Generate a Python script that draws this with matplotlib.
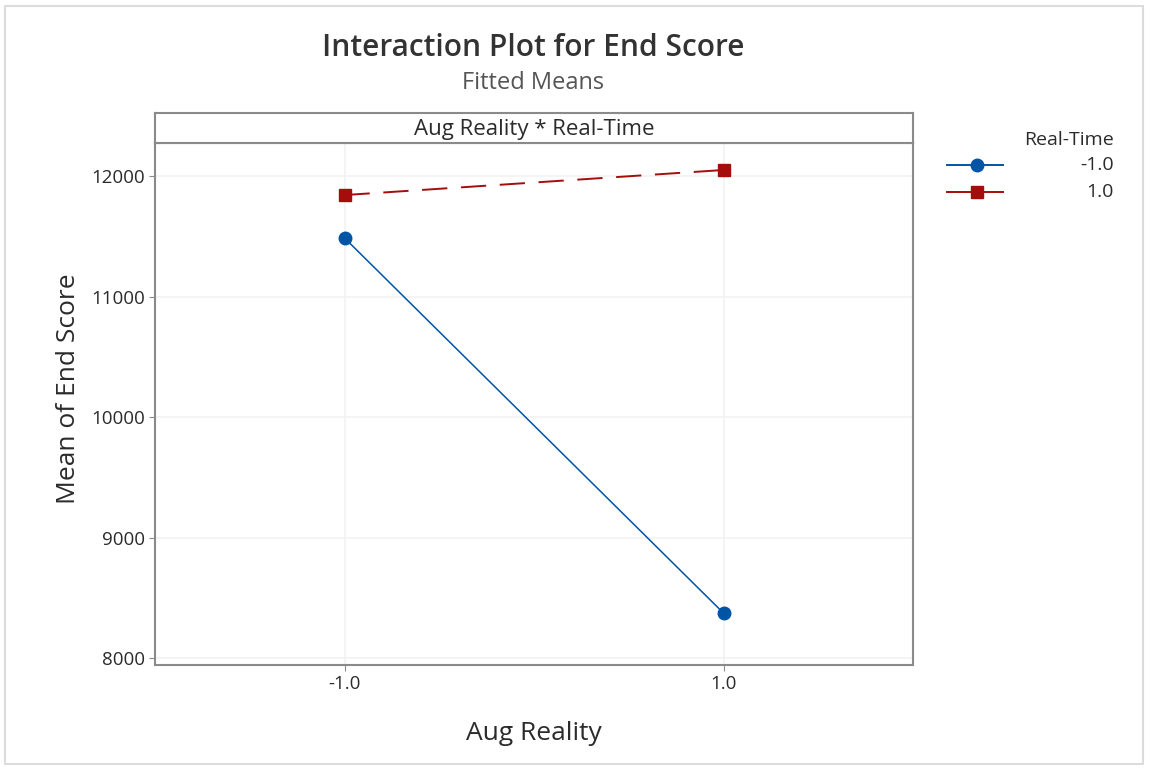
import matplotlib
matplotlib.use("Agg")
import matplotlib.pyplot as plt
from matplotlib.patches import Rectangle
from matplotlib.lines import Line2D

plt.rcParams['font.family'] = ['Open Sans', 'DejaVu Sans']

# 数据
aug_reality = [-1.0, 1.0]
x_ticklabels = ["-1.0", "1.0"]
rt_neg = [11486, 8373]     # Real-Time = -1.0
rt_pos = [11842, 12050]    # Real-Time = 1.0
y_ticks = [8000, 9000, 10000, 11000, 12000]
legend_labels = ["-1.0", "1.0"]

blue = "#0054a6"
red = "#a50d0d"
grey = "#8a8a8a"
txt = "#2b2b2b"

W, H = 1151, 770
fig = plt.figure(figsize=(W / 100, H / 100), dpi=100)

# 外框
fig.patches.append(Rectangle((5 / W, 6 / H), 1138 / W, 758 / H, transform=fig.transFigure,
                             fill=False, edgecolor="#dcdcdc", linewidth=1.5))

ax = fig.add_axes([155 / W, (H - 665) / H, 758 / W, 522 / H])
ax.plot(aug_reality, rt_neg, color=blue, linewidth=1.1, marker="o", markersize=9,
        markerfacecolor=blue, markeredgecolor=blue)
ax.plot(aug_reality, rt_pos, color=red, linewidth=1.4, linestyle=(0, (13, 7)), marker="s",
        markersize=9, markerfacecolor=red, markeredgecolor=red)

ax.set_xlim(-2.0, 2.0)
ax.set_ylim(7942, 12274)
ax.set_xticks(aug_reality)
ax.set_xticklabels(x_ticklabels)
ax.set_yticks(y_ticks)
ax.tick_params(labelsize=13.5, colors=txt, length=4, color=grey)
ax.grid(True, color="#f2f2f2", linewidth=1.2)
ax.set_axisbelow(True)
for s in ax.spines.values():
    s.set_color(grey)
    s.set_linewidth(1.5)

ax.set_xlabel("Aug Reality", fontsize=19, color=txt, labelpad=20)
ax.set_ylabel("Mean of End Score", fontsize=19, color=txt)
ax.yaxis.set_label_coords(-0.098, 0.529)

# 标题条
strip = fig.add_axes([155 / W, (H - 143) / H, 758 / W, 30 / H])
strip.set_xticks([])
strip.set_yticks([])
for s in strip.spines.values():
    s.set_color(grey)
    s.set_linewidth(1.5)
strip.text(0.5, 0.45, "Aug Reality * Real-Time", ha="center", va="center", fontsize=16,
           color=txt, transform=strip.transAxes)

fig.text(533 / W, 1 - 48 / H, "Interaction Plot for End Score", ha="center", va="center",
         fontsize=21.5, fontweight="semibold", color="#333333")
fig.text(533 / W, 1 - 83 / H, "Fitted Means", ha="center", va="center",
         fontsize=17, color="#555555")

# 图例
fig.text(1114 / W, 1 - 140 / H, "Real-Time", ha="right", va="center", fontsize=14, color=txt)
handles = [(blue, "o", "-"), (red, "s", "-")]
ys = [165, 192]
for (c, m, ls), yy, lab in zip(handles, ys, legend_labels):
    fig.add_artist(Line2D([947 / W, 1003 / W], [1 - yy / H, 1 - yy / H], transform=fig.transFigure,
                          color=c, linewidth=1.4, linestyle=ls))
    fig.add_artist(Line2D([977 / W], [1 - yy / H], transform=fig.transFigure, color=c, marker=m,
                          markersize=9, markerfacecolor=c, markeredgecolor=c, linestyle="none"))
    fig.text(1114 / W, 1 - yy / H, lab, ha="right", va="center", fontsize=14, color=txt)

fig.savefig("out.png", dpi=100)
